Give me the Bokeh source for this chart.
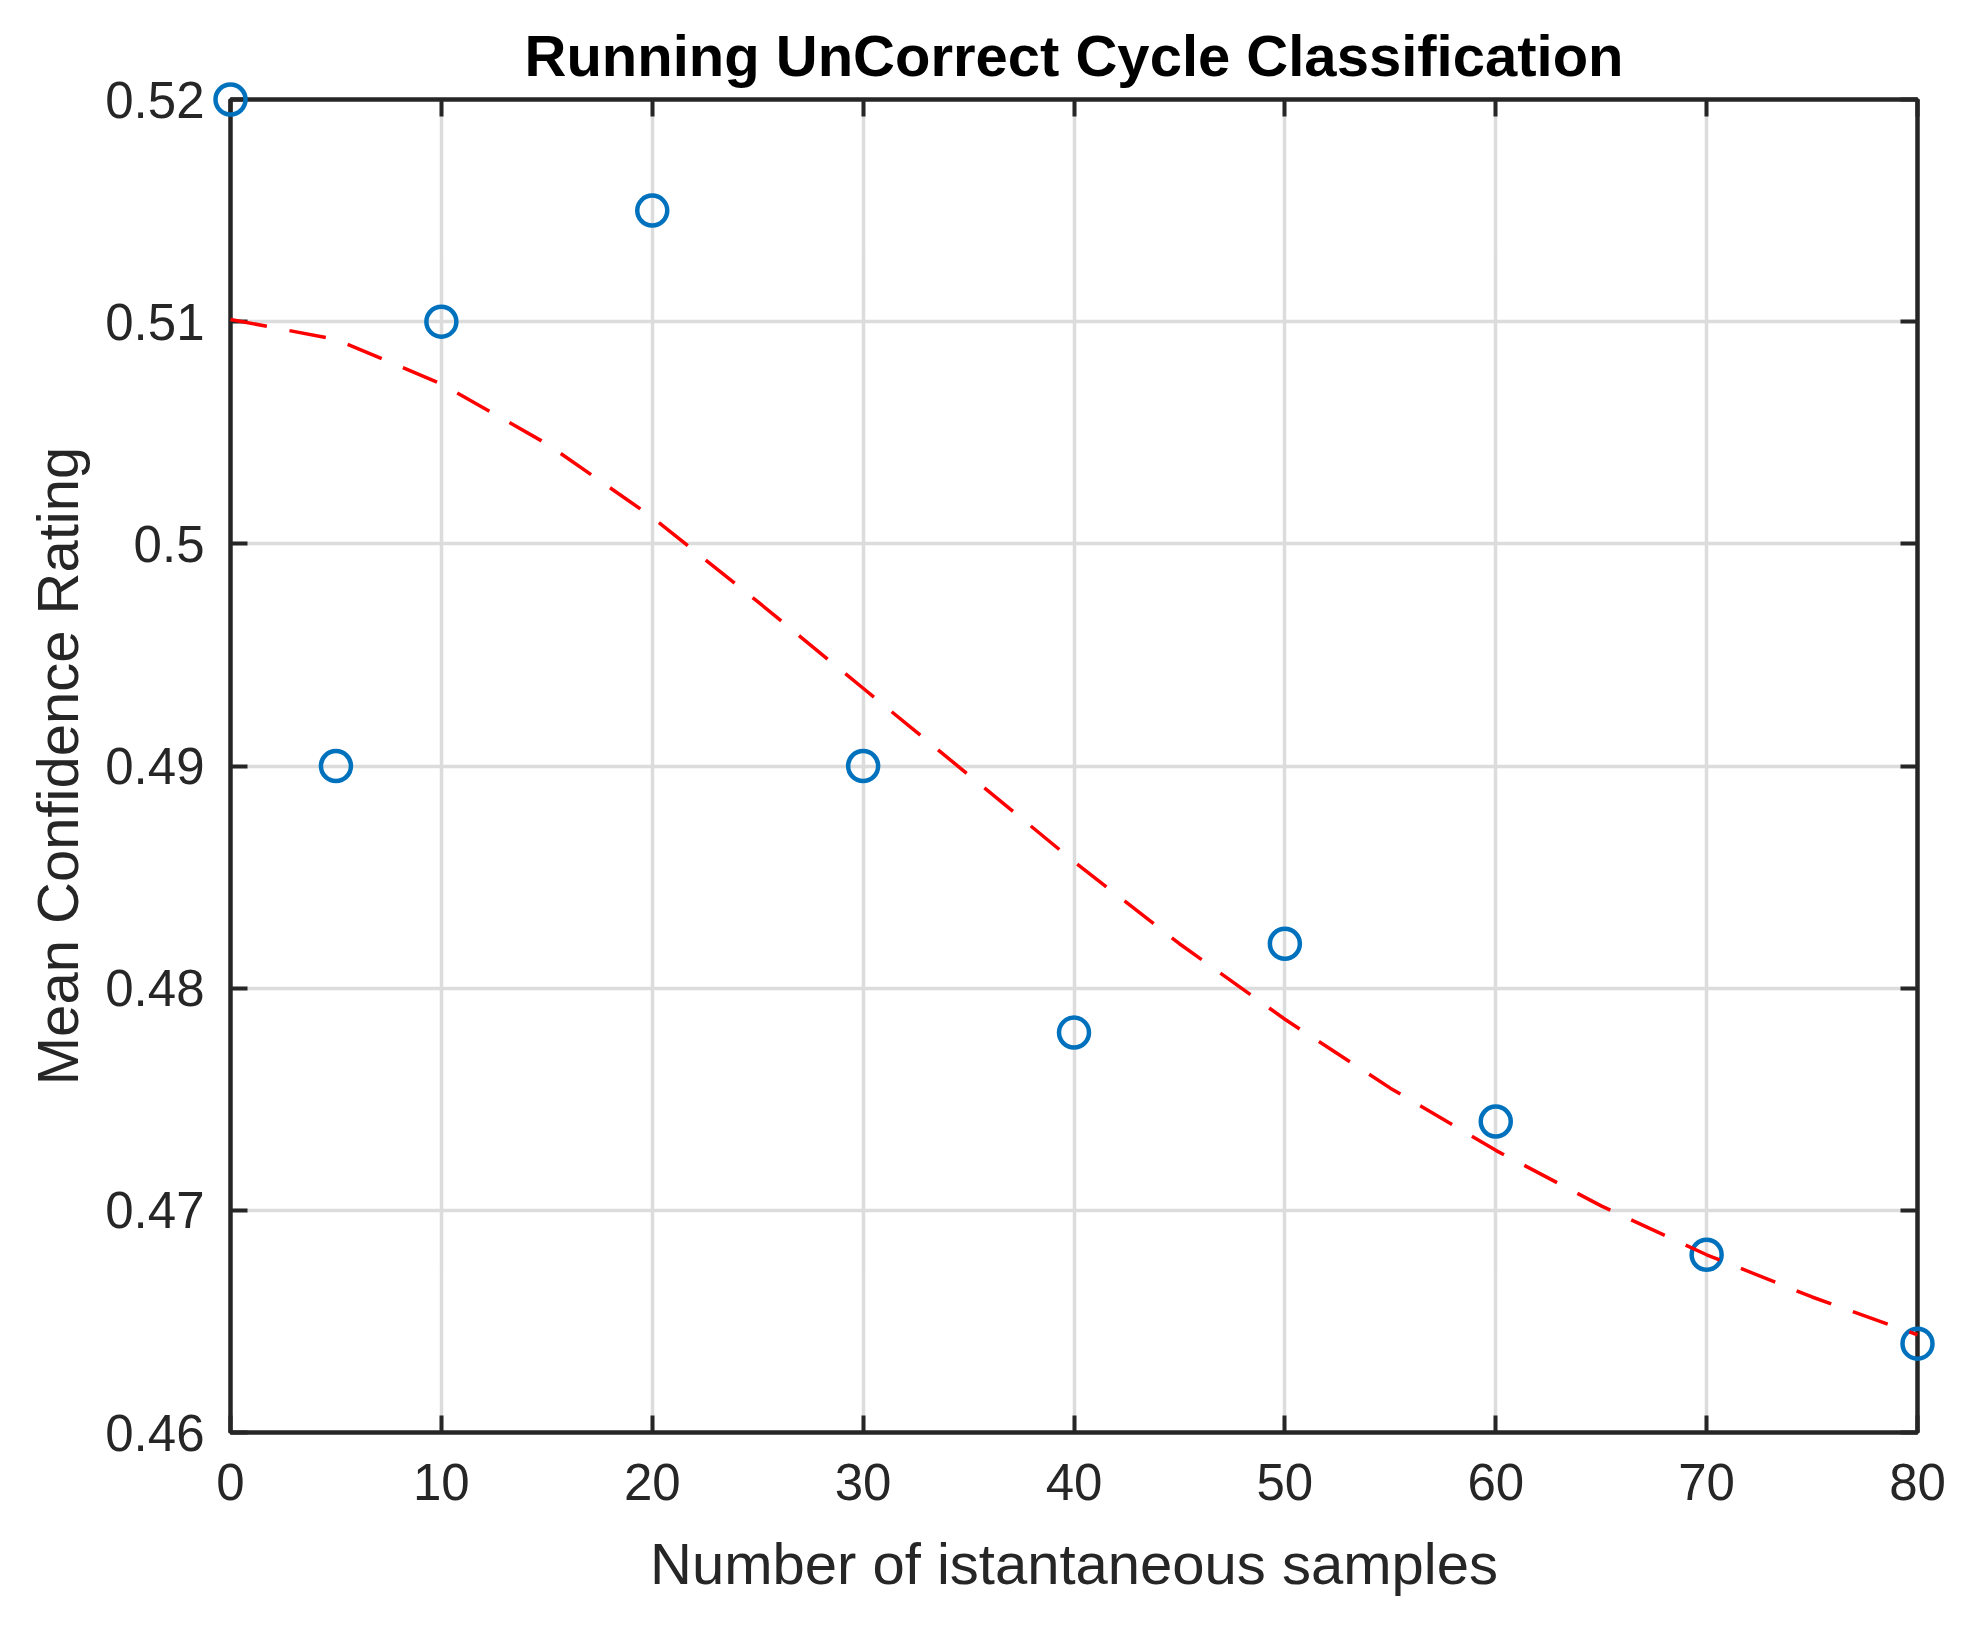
from bokeh.plotting import figure
from bokeh.models import Range1d, FixedTicker, LinearAxis, CustomJSTickFormatter
from bokeh.embed import file_html
from bokeh.resources import INLINE

# ---- data ----
sample_counts = [0, 5, 10, 20, 30, 40, 50, 60, 70, 80]
mean_confidence = [0.520, 0.490, 0.510, 0.515, 0.490, 0.478, 0.482, 0.474, 0.468, 0.464]

fit_x = [0, 5, 10, 15, 20, 25, 30, 35, 40, 45, 50, 55, 60, 65, 70, 75, 80]
fit_y = [0.5101, 0.5092, 0.5072, 0.5045, 0.5012, 0.4974, 0.4935, 0.4896, 0.4857,
         0.4820, 0.4786, 0.4755, 0.4727, 0.4702, 0.4680, 0.4661, 0.4644]

x_ticks = [0, 10, 20, 30, 40, 50, 60, 70, 80]
x_tick_labels = ["0", "10", "20", "30", "40", "50", "60", "70", "80"]
y_ticks = [0.46, 0.47, 0.48, 0.49, 0.50, 0.51, 0.52]
y_tick_labels = ["0.46", "0.47", "0.48", "0.49", "0.5", "0.51", "0.52"]

title_text = "Running UnCorrect Cycle Classification"
x_label = "Number of istantaneous samples"
y_label = "Mean Confidence Rating"

FONT = "Liberation Sans"
AX = "#262626"
GRID = "#dcdcdc"

fmt_code = """
let best = 0;
for (let i = 0; i < tvals.length; i++) {
  if (Math.abs(tvals[i] - tick) < Math.abs(tvals[best] - tick)) best = i;
}
return tlabels[best];
"""

p = figure(width=1959, height=1610,
           x_range=Range1d(0, 80), y_range=Range1d(0.46, 0.52),
           output_backend="svg", toolbar_location=None,
           min_border_left=230, min_border_right=42,
           min_border_top=99, min_border_bottom=178,
           background_fill_color="white", border_fill_color="white")

p.title.text = title_text
p.title.text_font = FONT
p.title.text_font_size = "58px"
p.title.text_font_style = "bold"
p.title.text_color = "black"
p.title.align = "center"
p.title.standoff = 24

p.outline_line_color = AX
p.outline_line_width = 4
p.outline_line_alpha = 1.0

xt = FixedTicker(ticks=x_ticks)
yt = FixedTicker(ticks=y_ticks)

def style_axis(ax, show_labels):
    ax.axis_line_color = AX
    ax.axis_line_width = 4
    ax.major_tick_in = 17
    ax.major_tick_out = 0
    ax.major_tick_line_color = AX
    ax.major_tick_line_width = 4
    ax.minor_tick_line_color = None
    ax.major_label_text_font = FONT
    ax.major_label_text_color = AX
    if show_labels:
        ax.major_label_text_font_size = "51px"
    else:
        ax.major_label_text_font_size = "0px"
        ax.major_label_standoff = 0
        ax.major_label_text_alpha = 0

xa = p.xaxis[0]
ya = p.yaxis[0]
xa.ticker = xt
ya.ticker = yt
xa.formatter = CustomJSTickFormatter(args=dict(tvals=x_ticks, tlabels=x_tick_labels), code=fmt_code)
ya.formatter = CustomJSTickFormatter(args=dict(tvals=y_ticks, tlabels=y_tick_labels), code=fmt_code)
style_axis(xa, True)
style_axis(ya, True)
xa.major_label_standoff = 31
ya.major_label_standoff = 26
xa.axis_label = x_label
ya.axis_label = y_label
for ax in (xa, ya):
    ax.axis_label_text_font = FONT
    ax.axis_label_text_font_size = "58px"
    ax.axis_label_text_font_style = "normal"
    ax.axis_label_text_color = AX
xa.axis_label_standoff = 28
ya.axis_label_standoff = 12

top_ax = LinearAxis(ticker=xt)
right_ax = LinearAxis(ticker=yt)
style_axis(top_ax, False)
style_axis(right_ax, False)
p.add_layout(top_ax, "above")
p.add_layout(right_ax, "right")

p.xgrid.ticker = xt
p.ygrid.ticker = yt
p.xgrid.grid_line_color = GRID
p.ygrid.grid_line_color = GRID
p.xgrid.grid_line_width = 3.5
p.ygrid.grid_line_width = 3.5

pts = p.scatter(sample_counts, mean_confidence, marker="circle", size=30,
                fill_color=None, line_color="#0072BD", line_width=4.5, level="overlay")
fit = p.line(fit_x, fit_y, line_color="#FF0000", line_width=3.5, line_dash="37 23", level="overlay")

open("out.html", "w").write(file_html(p, INLINE))
